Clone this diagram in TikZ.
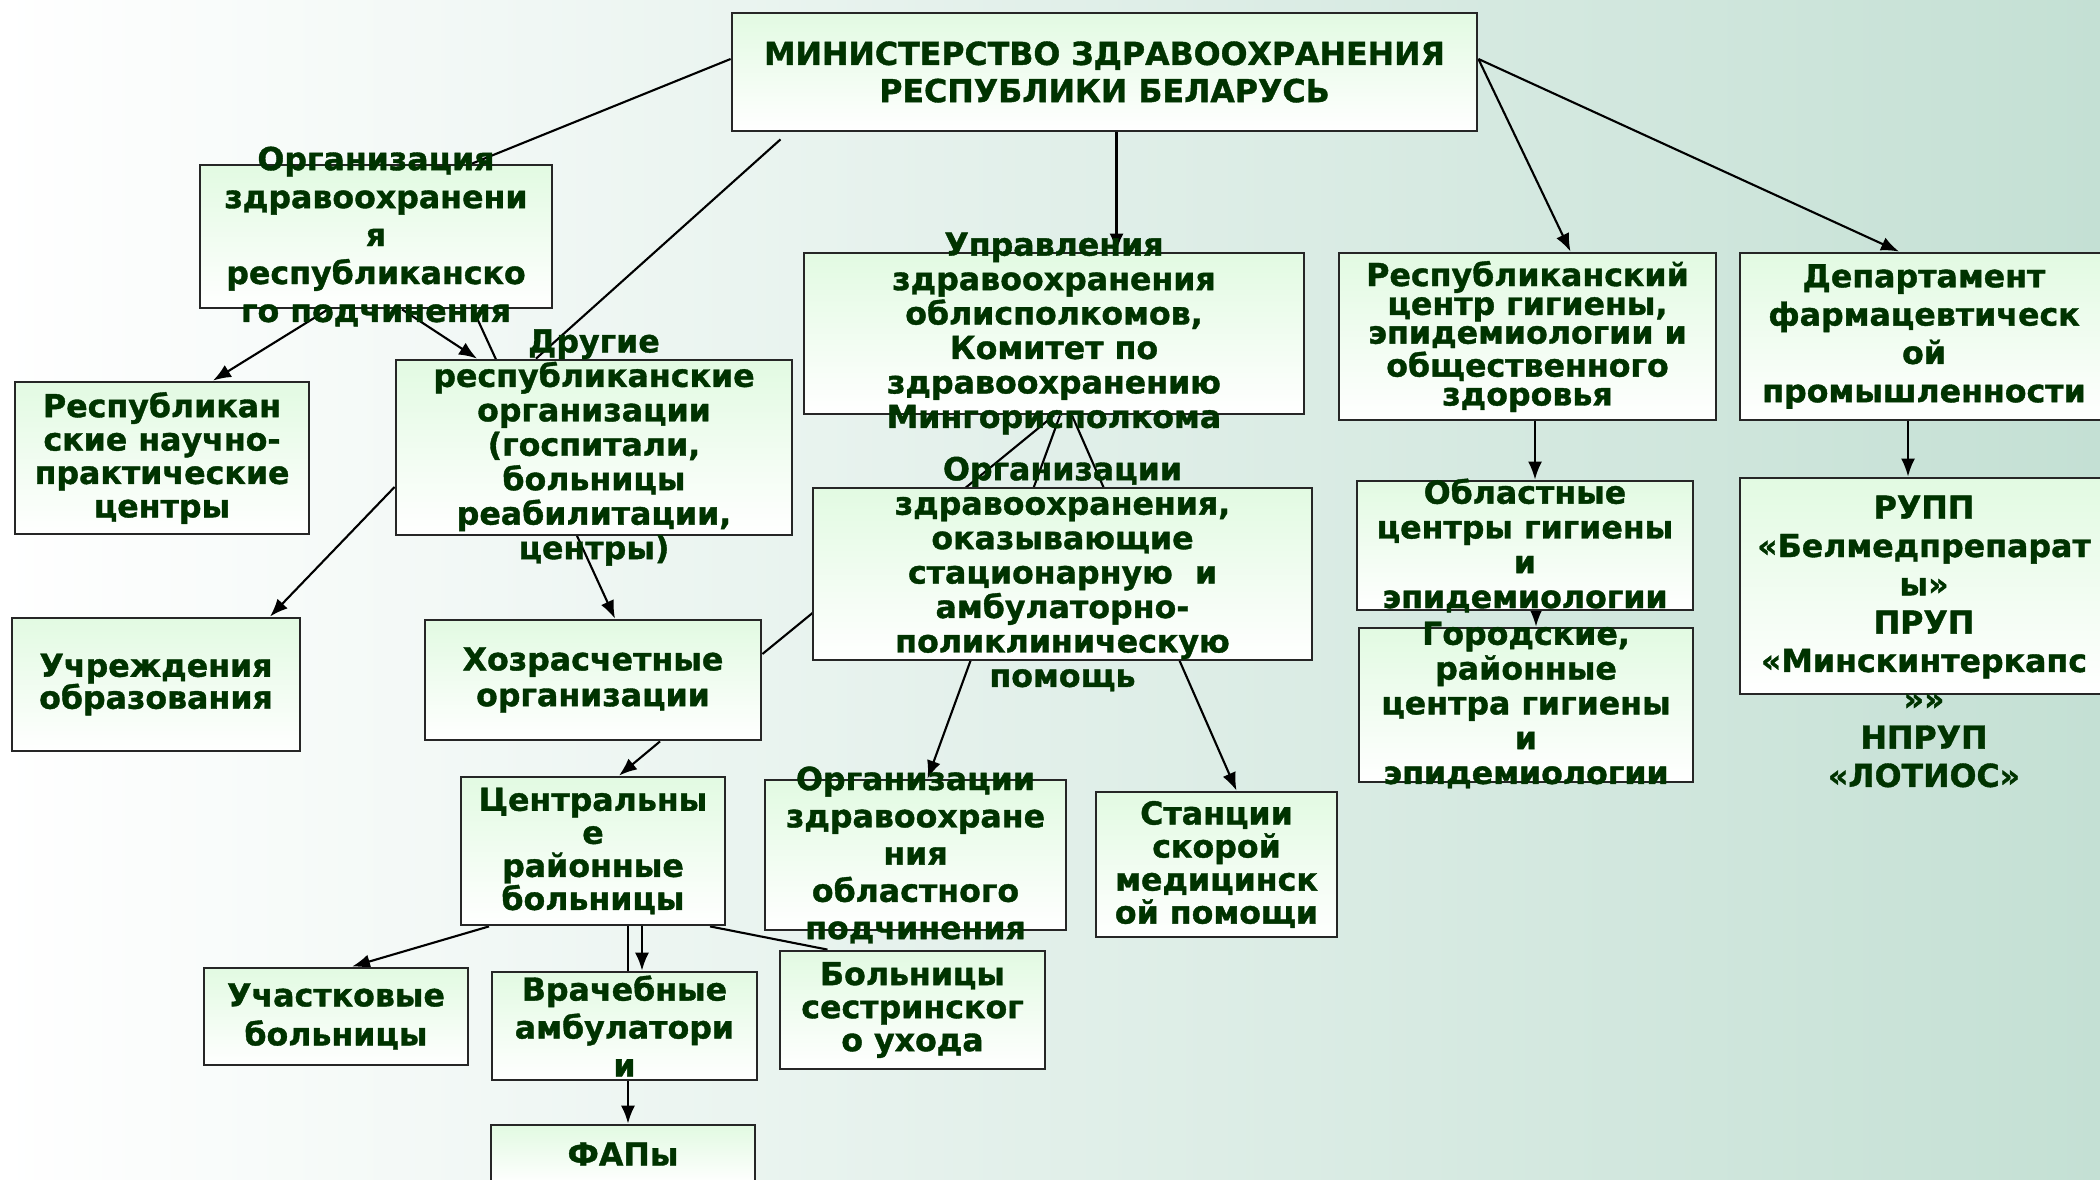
\documentclass[tikz,border=0pt]{standalone}
\usepackage{fontspec}
\setmainfont{DejaVu Sans}[BoldFeatures={FakeBold=1.2}]
\usetikzlibrary{arrows.meta}
\pgfdeclarelayer{bg}
\pgfsetlayers{bg,main}
\definecolor{txtgreen}{RGB}{0,51,0}
\definecolor{boxgreen}{RGB}{226,250,226}
\definecolor{backgreen}{RGB}{196,224,212}
\tikzset{
  box/.style={draw=black!85, line width=0.8pt, top color=boxgreen, bottom color=white, inner sep=0pt},
  lbl/.style={text=txtgreen, align=center, inner sep=0pt, font=\bfseries\fontsize{9}{#1}\selectfont},
  lbl/.default=9.8,
  conn/.style={line width=0.6pt},
  arr/.style={line width=0.6pt, -{Latex[length=1.8mm,width=1.4mm]}}
}
\begin{document}
\begin{tikzpicture}[x=0.1mm,y=-0.1mm]
    \useasboundingbox (0,0) rectangle (2100,1180);
    \begin{pgfonlayer}{bg}
        \fill[left color=white, right color=backgreen] (0,0) rectangle (2100,1180);
    \end{pgfonlayer}

    % Boxes
    \node[box, minimum width=74.5mm, minimum height=11.8mm] (min) at (1104.5,72) {};
    \node[box, minimum width=35.2mm, minimum height=14.3mm] (orgrep) at (376,236.5) {};
    \node[box, minimum width=29.4mm, minimum height=15.2mm] (npc) at (162,458) {};
    \node[box, minimum width=39.6mm, minimum height=17.5mm] (other) at (594,447.5) {};
    \node[box, minimum width=50mm, minimum height=16.1mm] (upr) at (1054,333.5) {};
    \node[box, minimum width=49.9mm, minimum height=17.2mm] (stat) at (1062.5,574) {};
    \node[box, minimum width=37.7mm, minimum height=16.7mm] (rcg) at (1527.5,336.5) {};
    \node[box, minimum width=36.8mm, minimum height=16.7mm] (dep) at (1924,336.5) {};
    \node[box, minimum width=33.6mm, minimum height=12.9mm] (obl) at (1525,545.5) {};
    \node[box, minimum width=33.4mm, minimum height=15.4mm] (city) at (1526,705) {};
    \node[box, minimum width=36.8mm, minimum height=21.6mm] (rupp) at (1924,586) {};
    \node[box, minimum width=28.8mm, minimum height=13.3mm] (educ) at (156,684.5) {};
    \node[box, minimum width=33.6mm, minimum height=12mm] (khoz) at (593,680) {};
    \node[box, minimum width=26.4mm, minimum height=14.8mm] (crb) at (593,851) {};
    \node[box, minimum width=30.1mm, minimum height=15mm] (oblsub) at (915.5,855) {};
    \node[box, minimum width=24.1mm, minimum height=14.5mm] (amb) at (1216.5,864.5) {};
    \node[box, minimum width=26.4mm, minimum height=9.7mm] (uch) at (336,1016.5) {};
    \node[box, minimum width=26.5mm, minimum height=10.8mm] (vrach) at (624.5,1026) {};
    \node[box, minimum width=26.5mm, minimum height=11.8mm] (nurse) at (912.5,1010) {};
    \node[box, minimum width=26.4mm, minimum height=5.8mm] (fap) at (623,1154) {};

    % Connectors
    \begin{pgfonlayer}{bg}
        \draw[conn] ([yshift=1.3mm]min.west) -- ([xshift=9.6mm]orgrep.north);
        \draw[conn] ([xshift=-32.4mm,yshift=-0.7mm]min.south) -- ([xshift=-5.8mm]other.north);
        \draw[arr] ([xshift=1.2mm]min.south) -- ([xshift=1.2mm]min.south |- upr.north);
        \draw[arr] ([yshift=1.3mm]min.east) -- ([xshift=4.3mm]rcg.north);
        \draw[arr] ([yshift=1.3mm]min.east) -- ([xshift=-2.5mm]dep.north);
        \draw[arr] ([xshift=-4.8mm]orgrep.south) -- ([xshift=5.1mm]npc.north);
        \draw[arr] ([xshift=2.6mm]orgrep.south) -- ([xshift=-11.7mm]other.north);
        \draw[arr] ([xshift=9.7mm]orgrep.south) -- ([xshift=2.2mm]khoz.north);
        \draw[arr] ([yshift=-3.95mm]other.west) -- ([xshift=11.4mm]educ.north);
        \draw[conn] (upr.south) -- ([yshift=2.6mm]khoz.east);
        \draw[arr] ([xshift=0.6mm]upr.south) -- ([xshift=1.2mm]oblsub.north);
        \draw[arr] ([xshift=1.8mm]upr.south) -- ([xshift=2mm]amb.north);
        \draw[arr] ([xshift=6.7mm]khoz.south) -- ([xshift=2.6mm]crb.north);
        \draw[arr] ([xshift=-10.4mm]crb.south) -- ([xshift=1.6mm]uch.north);
        \draw[arr] ([xshift=3.5mm]crb.south) -- ([xshift=3.5mm]crb.south |- fap.north);
        \draw[arr] ([xshift=4.9mm]crb.south) -- ([xshift=4.9mm]crb.south |- vrach.north);
        \draw[conn] ([xshift=11.7mm]crb.south) -- ([xshift=-8.5mm]nurse.north);
        \draw[arr] ([xshift=0.75mm]rcg.south) -- ([xshift=0.75mm]rcg.south |- obl.north);
        \draw[arr] ([xshift=1.1mm]obl.south) -- ([xshift=1.1mm]obl.south |- city.north);
        \draw[arr] ([xshift=-1.6mm]dep.south) -- ([xshift=-1.6mm]dep.south |- rupp.north);
    \end{pgfonlayer}

    % Labels
    \node[lbl=10.6] (min-t) at (min) {МИНИСТЕРСТВО ЗДРАВООХРАНЕНИЯ\\РЕСПУБЛИКИ БЕЛАРУСЬ};
    \node[lbl=10.8] (orgrep-t) at (orgrep) {Организация\\здравоохранени\\я\\республиканско\\го подчинения};
    \node[lbl=9.5] (npc-t) at (npc) {Республикан\\ские научно-\\практические\\центры};
    \node[lbl] (other-t) at (other) {Другие\\республиканские\\организации\\(госпитали,\\больницы\\реабилитации,\\центры)};
    \node[lbl] (upr-t) at (upr) {Управления\\здравоохранения\\облисполкомов,\\Комитет по\\здравоохранению\\Мингорисполкома};
    \node[lbl] (stat-t) at (stat) {Организации\\здравоохранения,\\оказывающие\\стационарную~~и\\амбулаторно-\\поликлиническую\\помощь};
    \node[lbl=8.2] (rcg-t) at (rcg) {Республиканский\\центр гигиены,\\эпидемиологии и\\общественного\\здоровья};
    \node[lbl=10.9] (dep-t) at (dep) {Департамент\\фармацевтическ\\ой\\промышленности};
    \node[lbl=9.9] (obl-t) at (obl) {Областные\\центры гигиены\\и\\эпидемиологии};
    \node[lbl=9.9] (city-t) at (city) {Городские,\\районные\\центра гигиены\\и\\эпидемиологии};
    \node[lbl=10.9] (rupp-t) at ([yshift=-5.55mm]rupp) {РУПП\\«Белмедпрепарат\\ы»\\ПРУП\\«Минскинтеркапс\\»»\\НПРУП\\«ЛОТИОС»};
    \node[lbl=9.1] (educ-t) at (educ) {Учреждения\\образования};
    \node[lbl=10.2] (khoz-t) at (khoz) {Хозрасчетные\\организации};
    \node[lbl=9.4] (crb-t) at (crb) {Центральны\\е\\районные\\больницы};
    \node[lbl=10.6] (oblsub-t) at (oblsub) {Организации\\здравоохране\\ния\\областного\\подчинения};
    \node[lbl=9.4] (amb-t) at (amb) {Станции\\скорой\\медицинск\\ой помощи};
    \node[lbl=11.1] (uch-t) at (uch) {Участковые\\больницы};
    \node[lbl=10.8] (vrach-t) at (vrach) {Врачебные\\амбулатори\\и};
    \node[lbl=9.4] (nurse-t) at (nurse) {Больницы\\сестринског\\о ухода};
    \node[lbl] (fap-t) at (fap) {ФАПы};
\end{tikzpicture}
\end{document}
